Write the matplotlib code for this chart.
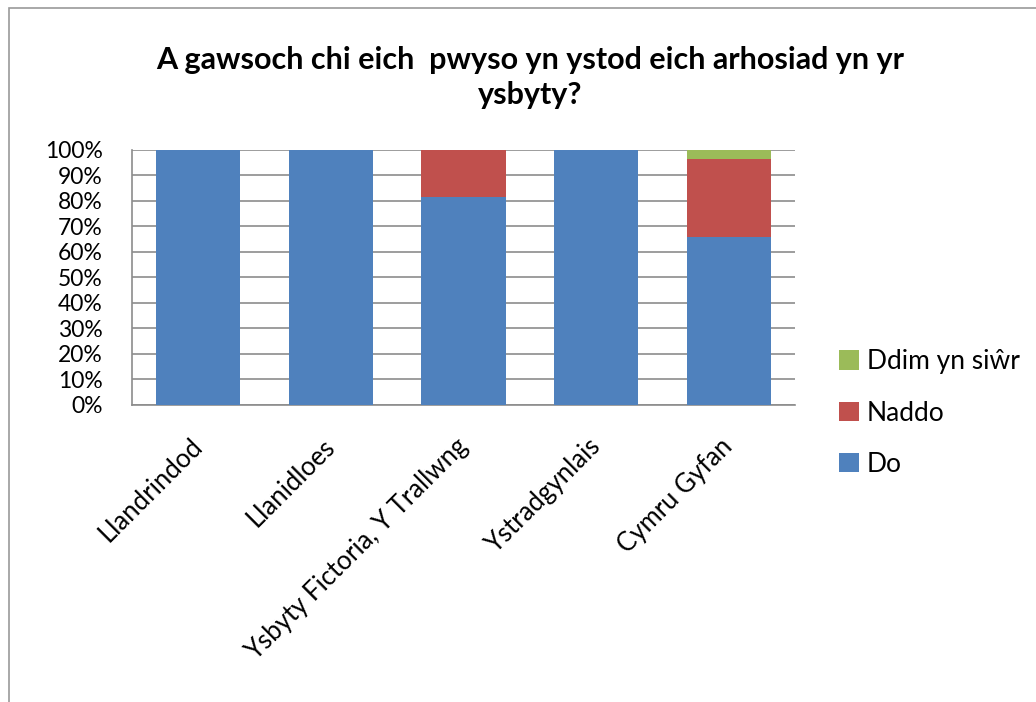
import matplotlib
matplotlib.use('Agg')
import matplotlib.pyplot as plt
from matplotlib.patches import Rectangle
import numpy as np

plt.rcParams['font.family'] = ['Lato', 'DejaVu Sans']

categories = ['Llandrindod', 'Llanidloes', 'Ysbyty Fictoria, Y Trallwng',
              'Ystradgynlais', 'Cymru Gyfan']
do_vals = [100, 100, 81.5, 100, 65.8]
naddo_vals = [0, 0, 18.5, 0, 30.7]
ddim_vals = [0, 0, 0, 0, 3.5]
series_names = ['Do', 'Naddo', 'Ddim yn siŵr']
colors = ['#4F81BD', '#C0504D', '#9BBB59']

fig = plt.figure(figsize=(10.36, 7.02), dpi=100)
ax = fig.add_axes([132 / 1036, 1 - 405 / 702, 663 / 1036, 255 / 702])

# chart border
fig.patches.append(Rectangle((9 / 1036, -0.1), 1.2, 1.1 - 8 / 702,
                             transform=fig.transFigure, fill=False,
                             edgecolor='#9a9a9a', linewidth=1.2))

x = np.arange(len(categories))
w = 0.635
b1 = ax.bar(x, do_vals, w, color=colors[0], label=series_names[0], zorder=3)
b2 = ax.bar(x, naddo_vals, w, bottom=do_vals, color=colors[1],
            label=series_names[1], zorder=3)
bottom3 = np.array(do_vals) + np.array(naddo_vals)
b3 = ax.bar(x, ddim_vals, w, bottom=bottom3, color=colors[2],
            label=series_names[2], zorder=3)

ax.set_xlim(-0.5, len(categories) - 0.5)
ax.set_ylim(0, 100)
ax.set_yticks(np.arange(0, 101, 10))
ax.set_yticklabels(['%d%%' % v for v in range(0, 101, 10)], fontsize=16.5)
ax.yaxis.grid(True, color='#8c8c8c', linewidth=1.2, zorder=0)
ax.tick_params(axis='y', length=0, pad=21)
ax.tick_params(axis='x', length=0, pad=27)
ax.set_xticks(x)
ax.set_xticklabels(categories, rotation=45, ha='right', va='center',
                   rotation_mode='anchor', fontsize=18.5)

for s in ['top', 'right']:
    ax.spines[s].set_visible(False)
for s in ['left', 'bottom']:
    ax.spines[s].set_color('#8c8c8c')
    ax.spines[s].set_linewidth(1.2)

fig.text(530 / 1036, 1 - 60 / 702, 'A gawsoch chi eich  pwyso yn ystod eich arhosiad yn yr',
         ha='center', va='center', fontsize=22, fontweight='bold')
fig.text(530 / 1036, 1 - 95 / 702, 'ysbyty?',
         ha='center', va='center', fontsize=22, fontweight='bold')

leg = fig.legend(handles=[b3, b2, b1], labels=series_names[::-1],
                 loc='upper left', bbox_to_anchor=(826 / 1036, 1 - 336 / 702),
                 frameon=False, fontsize=19, handlelength=0.75, handleheight=0.75,
                 handletextpad=0.3, labelspacing=1.0, borderpad=0)

fig.savefig('out.png', dpi=100, facecolor='white')
